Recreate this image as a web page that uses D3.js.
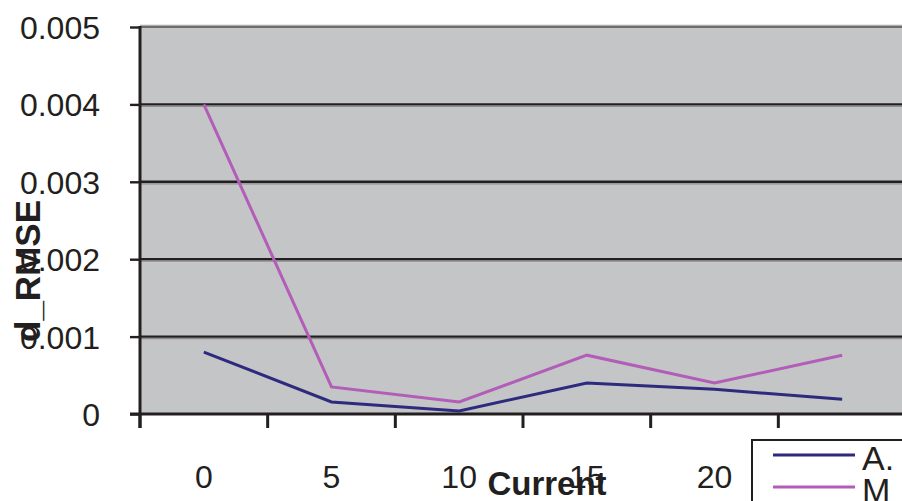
<!DOCTYPE html>
<html>
<head>
<meta charset="utf-8">
<script src="https://cdn.jsdelivr.net/npm/d3@7"></script>
<style>
  html, body { margin: 0; padding: 0; background: #ffffff; }
  svg { display: block; font-family: "Liberation Sans", Arial, sans-serif; }
</style>
</head>
<body>
<svg id="chart" width="902" height="501"></svg>
<script>
// Current levels along the category axis
const categories = ["0", "5", "10", "15", "20", "25"];
// d_RMSE per current level for each identification method
const seriesA = [0.00080, 0.000155, 0.00004, 0.00040, 0.00032, 0.00019];
const seriesM = [0.00400, 0.00035, 0.000155, 0.00076, 0.00040, 0.00076];
const seriesNames = ["A.", "M"];
const yTicks = [0, 0.001, 0.002, 0.003, 0.004, 0.005];

const colors = { "A.": "#2e2a7e", "M": "#b25db8" };
const ink = "#231f20";

const svg = d3.select("#chart");
const plot = { left: 140, top: 27, right: 906, bottom: 414 };

const x = d3.scaleBand().domain(categories).range([plot.left, plot.right]);
const y = d3.scaleLinear().domain([0, 0.005]).range([plot.bottom, plot.top]);

// plot background
svg.append("rect")
  .attr("x", plot.left).attr("y", plot.top)
  .attr("width", plot.right - plot.left).attr("height", plot.bottom - plot.top)
  .attr("fill", "#c4c5c7");

// top border of the plot area
svg.append("line")
  .attr("x1", plot.left).attr("x2", plot.right)
  .attr("y1", plot.top - 1.5).attr("y2", plot.top - 1.5)
  .attr("stroke", "#aaaaaa").attr("stroke-width", 1.5);
svg.append("line")
  .attr("x1", plot.left).attr("x2", plot.right)
  .attr("y1", plot.top).attr("y2", plot.top)
  .attr("stroke", "#6e6e6e").attr("stroke-width", 1.8);

// horizontal gridlines
svg.append("g").selectAll("line")
  .data(yTicks.filter(d => d > 0 && d < 0.005))
  .join("line")
  .attr("x1", plot.left).attr("x2", plot.right)
  .attr("y1", d => y(d)).attr("y2", d => y(d))
  .attr("stroke", ink).attr("stroke-width", 2.4);
svg.append("g").selectAll("line")
  .data(yTicks.filter(d => d > 0 && d < 0.005))
  .join("line")
  .attr("x1", plot.left).attr("x2", plot.right)
  .attr("y1", d => y(d) + 2).attr("y2", d => y(d) + 2)
  .attr("stroke", "#8d8d8f").attr("stroke-width", 1.2);

// y axis
const yAxis = d3.axisLeft(y).tickValues(yTicks).tickSize(10).tickPadding(30)
  .tickFormat(d => d === 0 ? "0" : d3.format(".3f")(d));
const gy = svg.append("g").attr("transform", `translate(${plot.left},0)`).call(yAxis);
gy.select(".domain").remove();
gy.selectAll(".tick line").attr("stroke", ink).attr("stroke-width", 2.4);
gy.selectAll(".tick text")
  .attr("fill", ink).attr("font-size", 32)
  .attr("font-family", "'Liberation Sans', Arial, sans-serif")
  .attr("dy", "0.36em");

// left axis line, running down to the first x tick
svg.append("line")
  .attr("x1", plot.left).attr("x2", plot.left)
  .attr("y1", plot.top - 1).attr("y2", plot.bottom + 14)
  .attr("stroke", ink).attr("stroke-width", 3);

// x axis: ticks on category boundaries, labels in the middle of each band
const boundaries = categories.map(c => x(c)).concat([plot.right]);
svg.append("g").selectAll("line")
  .data(boundaries)
  .join("line")
  .attr("x1", d => d).attr("x2", d => d)
  .attr("y1", plot.bottom).attr("y2", plot.bottom + 14)
  .attr("stroke", ink).attr("stroke-width", 3);
svg.append("line")
  .attr("x1", plot.left - 10).attr("x2", plot.right)
  .attr("y1", plot.bottom).attr("y2", plot.bottom)
  .attr("stroke", ink).attr("stroke-width", 3);
svg.append("g").selectAll("text")
  .data(categories)
  .join("text")
  .attr("x", d => x(d) + x.bandwidth() / 2)
  .attr("y", 488)
  .attr("text-anchor", "middle")
  .attr("font-size", 32)
  .attr("fill", ink)
  .text(d => d);

// series lines
const line = d3.line()
  .x((d, i) => x(categories[i]) + x.bandwidth() / 2)
  .y(d => y(d));
[["A.", seriesA], ["M", seriesM]].forEach(([name, vals]) => {
  svg.append("path")
    .datum(vals)
    .attr("d", line)
    .attr("fill", "none")
    .attr("stroke", colors[name])
    .attr("stroke-width", 3)
    .attr("stroke-linejoin", "miter");
});

// axis titles
svg.append("text")
  .attr("x", 547).attr("y", 495)
  .attr("text-anchor", "middle")
  .attr("font-size", 33).attr("font-weight", "bold")
  .attr("fill", ink)
  .text("Current");
svg.append("text")
  .attr("transform", "translate(40,271) rotate(-90)")
  .attr("text-anchor", "middle")
  .attr("font-size", 35).attr("font-weight", "bold")
  .attr("fill", ink)
  .text("d_RMSE");

// legend
const legend = svg.append("g");
legend.append("rect")
  .attr("x", 752).attr("y", 440).attr("width", 200).attr("height", 100)
  .attr("fill", "#ffffff").attr("stroke", ink).attr("stroke-width", 2);
seriesNames.forEach((name, i) => {
  const ly = 455 + i * 32;
  legend.append("line")
    .attr("x1", 773).attr("x2", 855).attr("y1", ly).attr("y2", ly)
    .attr("stroke", colors[name]).attr("stroke-width", 3);
  legend.append("text")
    .attr("x", 862).attr("y", ly + 15)
    .attr("font-size", 34).attr("fill", ink)
    .text(name);
});
</script>
</body>
</html>
